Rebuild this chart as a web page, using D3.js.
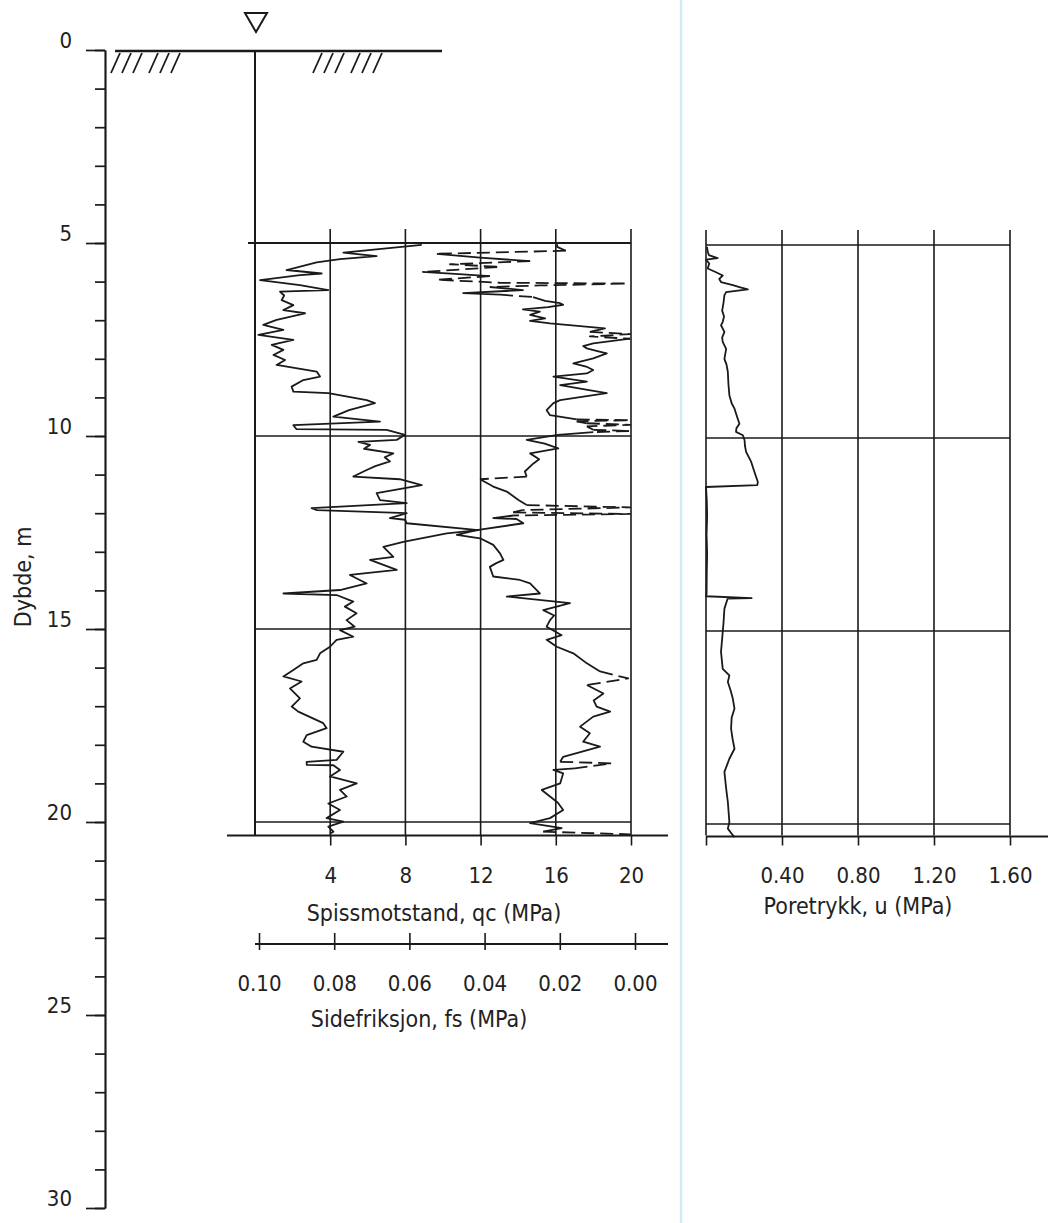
<!DOCTYPE html>
<html><head><meta charset="utf-8">
<script src="https://cdn.jsdelivr.net/npm/d3@7"></script>
<style>
html,body{margin:0;padding:0;background:#fff;}
svg text{font-family:"Liberation Sans Narrow","DejaVu Sans Condensed","Roboto Condensed",Lato,sans-serif;fill:#222;}
</style></head>
<body>
<svg id="chart" width="1048" height="1223"></svg>
<script>
// ---------- DATA ----------
const depthMajor = [0, 5, 10, 15, 20, 25, 30];
const depthMinor = d3.range(0, 31, 1);
const qcTicks = [4, 8, 12, 16, 20];
const fsTicks = [0.10, 0.08, 0.06, 0.04, 0.02, 0.00];
const uTicks = [0.40, 0.80, 1.20, 1.60];
const gridDepths = [10, 15, 20];
const cptTop = 5.0, cptBottom = 20.35;

// Spissmotstand qc (MPa) vs depth (m): [depth, qc]
const qcData = [
 [5.05,8.87],[5.25,4.70],[5.34,6.47],[5.42,4.52],[5.50,3.28],[5.70,1.68],[5.79,3.55],[5.83,2.39],[5.96,0.27],
 [6.09,2.39],[6.22,3.90],[6.26,1.33],[6.36,1.55],[6.48,1.42],[6.61,2.04],[6.74,1.51],[6.82,2.66],[6.99,1.15],[7.12,0.44],
 [7.25,1.51],[7.38,0.18],[7.51,2.04],[7.64,0.89],[7.77,1.51],[7.90,0.98],[8.03,1.60],[8.16,1.15],[8.33,3.28],
 [8.46,3.46],[8.55,2.57],[8.72,1.95],[8.85,2.04],[8.89,3.90],[9.07,5.94],[9.15,6.38],[9.33,5.00],[9.50,4.17],
 [9.63,6.65],[9.72,2.04],[9.82,2.20],[9.84,7.00],[9.97,7.98],[10.10,7.54],[10.15,5.50],[10.23,6.12],[10.33,5.80],
 [10.45,7.36],[10.55,6.90],[10.66,7.18],[10.78,6.40],[10.88,5.94],[11.05,5.23],[11.12,7.70],[11.27,8.87],[11.48,6.47],[11.66,6.65],
 [11.74,8.07],[11.87,3.01],[11.92,3.30],[12.00,8.07],[12.13,7.18],[12.17,7.98],[12.26,8.07],[12.44,11.88],
 [12.52,10.20],[12.74,7.89],[12.87,6.83],[13.13,7.36],[13.21,6.12],[13.47,7.54],[13.60,5.05],[13.82,5.94],
 [13.99,4.52],[14.08,1.51],[14.12,4.34],[14.29,5.23],[14.42,4.78],[14.59,5.40],[14.77,4.87],[14.94,5.30],
 [15.03,4.52],[15.20,5.23],[15.28,4.34],[15.46,3.99],[15.63,3.46],[15.80,3.28],[15.89,2.57],[16.06,2.04],
 [16.23,1.51],[16.36,2.48],[16.54,1.86],[16.80,2.39],[17.01,1.95],[17.14,2.30],[17.44,3.63],[17.57,3.81],
 [17.75,2.75],[17.92,2.57],[18.05,3.01],[18.18,4.70],[18.39,4.34],[18.44,2.75],[18.52,2.75],[18.53,4.17],
 [18.65,4.52],[18.82,3.99],[19.00,5.41],[19.17,4.52],[19.34,4.88],[19.52,3.90],[19.69,4.52],[19.90,3.81],
 [19.99,4.70],[20.12,3.90],[20.25,4.17],[20.30,4.00]
];

// Sidefriksjon fs (MPa) vs depth: [depth, fs, jump-to-next (1 = reading gap, drawn dashed)]
const fsData = [
 [5.03,0.0207,0],[5.10,0.0207,0],[5.20,0.0184,1],[5.28,0.0527,0],[5.38,0.0412,0],[5.47,0.0279,1],
 [5.55,0.0492,1],[5.62,0.0359,1],[5.75,0.0566,0],[5.80,0.0479,0],[5.86,0.0386,1],[5.95,0.0527,1],
 [6.03,0.0359,1],[6.05,0.0021,1],[6.10,0.0253,1],[6.14,0.0386,0],[6.22,0.0298,0],[6.30,0.0457,0],
 [6.34,0.0359,1],[6.40,0.0271,0],[6.50,0.0239,0],[6.56,0.0199,0],[6.60,0.0191,0],[6.66,0.0231,0],
 [6.72,0.0298,0],[6.78,0.0253,0],[6.86,0.0279,0],[6.95,0.0239,0],[7.02,0.0279,0],[7.08,0.0226,0],
 [7.14,0.0160,0],[7.21,0.0080,0],[7.30,0.0120,1],[7.36,0.0013,1],[7.42,0.0120,1],[7.48,0.0013,0],
 [7.60,0.0111,0],[7.67,0.0138,0],[7.73,0.0128,0],[7.80,0.0100,0],[7.86,0.0075,0],[7.99,0.0111,0],[8.12,0.0164,0],[8.20,0.0130,0],[8.29,0.0111,0],
 [8.38,0.0128,0],[8.46,0.0217,0],[8.59,0.0128,0],[8.68,0.0199,0],[8.80,0.0130,0],[8.89,0.0075,0],[9.07,0.0199,0],
 [9.15,0.0217,0],[9.33,0.0235,0],[9.46,0.0226,0],[9.57,0.0155,1],[9.59,0.0013,1],[9.62,0.0155,0],
 [9.67,0.0128,1],[9.71,0.0013,1],[9.75,0.0128,0],[9.84,0.0111,1],[9.87,0.0013,1],[9.90,0.0111,0],
 [9.97,0.0205,0],[10.10,0.0288,0],[10.20,0.0240,0],[10.32,0.0204,0],[10.45,0.0279,0],[10.60,0.0255,0],[10.71,0.0270,0],[10.92,0.0293,0],
 [11.05,0.0288,1],[11.12,0.0412,0],[11.31,0.0377,0],[11.44,0.0341,0],[11.66,0.0310,0],[11.79,0.0288,1],
 [11.85,0.0013,1],[11.92,0.0300,0],[11.98,0.0324,1],[12.02,0.0013,1],[12.06,0.0324,0],[12.13,0.0377,0],
 [12.15,0.0315,0],[12.26,0.0297,0],[12.44,0.0421,0],[12.56,0.0474,0],[12.65,0.0412,0],[12.82,0.0377,0],
 [13.04,0.0359,0],[13.21,0.0350,0],[13.30,0.0370,0],[13.39,0.0386,0],[13.64,0.0377,0],[13.73,0.0306,0],[13.82,0.0279,0],
 [14.08,0.0253,0],[14.16,0.0341,0],[14.33,0.0173,0],[14.51,0.0244,0],[14.65,0.0215,0],[14.77,0.0226,0],[14.94,0.0235,0],
 [15.16,0.0195,0],[15.28,0.0235,0],[15.46,0.0208,0],[15.63,0.0164,0],[15.89,0.0128,0],[16.10,0.0093,1],
 [16.28,0.0018,1],[16.45,0.0128,0],[16.67,0.0084,0],[16.85,0.0110,0],[17.01,0.0102,0],[17.14,0.0066,0],[17.27,0.0111,0],
 [17.53,0.0146,0],[17.70,0.0120,0],[17.92,0.0138,0],[18.05,0.0093,0],[18.31,0.0191,0],[18.44,0.0199,1],[18.48,0.0062,1],
 [18.61,0.0160,0],[18.65,0.0217,0],[18.74,0.0191,0],[19.00,0.0199,0],[19.17,0.0248,0],[19.34,0.0226,0],
 [19.50,0.0205,0],[19.69,0.0191,0],[19.90,0.0226,0],[20.03,0.0279,0],[20.16,0.0195,0],[20.25,0.0244,1],[20.32,0.0013,0]
];

// Poretrykk u (MPa) vs depth: [depth, u]
const uData = [
 [5.05,0.005],[5.11,0.007],[5.18,0.010],[5.26,0.015],[5.34,0.061],[5.38,0.000],[5.48,0.017],[5.61,0.009],
 [5.70,0.050],[5.79,0.088],[5.88,0.070],[5.96,0.079],[6.04,0.141],[6.09,0.176],[6.15,0.220],[6.22,0.106],
 [6.30,0.097],[6.50,0.092],[6.70,0.085],[6.85,0.095],[6.99,0.088],[7.08,0.079],[7.25,0.097],[7.40,0.085],
 [7.51,0.088],[7.69,0.106],[7.95,0.097],[8.10,0.108],[8.29,0.115],[8.60,0.118],[8.89,0.123],[9.10,0.135],
 [9.24,0.150],[9.50,0.167],[9.63,0.176],[9.75,0.160],[9.84,0.158],[9.93,0.194],[10.06,0.203],[10.20,0.205],
 [10.36,0.211],[10.62,0.238],[10.88,0.255],[11.14,0.273],[11.22,0.270],[11.27,0.000],[11.60,0.004],
 [12.00,0.006],[12.50,0.003],[13.00,0.006],[13.50,0.004],[14.05,0.003],[14.10,0.000],[14.15,0.240],
 [14.16,0.114],[14.42,0.097],[14.80,0.092],[15.03,0.088],[15.54,0.079],[15.98,0.088],[16.15,0.123],
 [16.32,0.115],[16.55,0.130],[16.75,0.141],[17.01,0.150],[17.25,0.135],[17.53,0.132],[17.80,0.140],
 [18.05,0.150],[18.31,0.123],[18.65,0.097],[19.08,0.106],[19.43,0.115],[19.95,0.123],[20.12,0.115],
 [20.29,0.141],[20.34,0.150]
];

// ---------- SCALES ----------
const svg = d3.select("#chart");
const y = d3.scaleLinear().domain([0, 30]).range([50, 1208]);
const xq = d3.scaleLinear().domain([0, 20]).range([255, 631]);
const xf = d3.scaleLinear().domain([0.10, 0]).range([259, 635]);
const xu = d3.scaleLinear().domain([0, 1.6]).range([706, 1010]);
const INK = "#1a1a1a";
const FS_LABEL = 22, FS_TITLE = 23;

// light blue page separator
svg.append("line").attr("x1", 681).attr("x2", 681).attr("y1", 0).attr("y2", 1223)
  .attr("stroke", "#d3e9f6").attr("stroke-width", 2.5);

// ---------- DEPTH AXIS ----------
const axX = 105;
const gMinor = svg.append("g").attr("transform", `translate(${axX},0)`)
  .call(d3.axisLeft(y).tickValues(depthMinor).tickSize(10).tickSizeOuter(0).tickFormat(""));
const gMajor = svg.append("g").attr("transform", `translate(${axX},0)`)
  .call(d3.axisLeft(y).tickValues(depthMajor).tickSize(19).tickSizeOuter(0).tickFormat(d => d));
[gMinor, gMajor].forEach(g => {
  g.selectAll("path,line").attr("stroke", INK).attr("stroke-width", 1.7);
});
gMajor.selectAll("text").attr("x", -33).attr("dy", "-0.12em").attr("font-size", FS_LABEL)
  .attr("text-anchor", "end").style("font-family", null);
svg.append("text").attr("transform", `translate(31,${y(13.65)}) rotate(-90)`)
  .attr("text-anchor", "middle").attr("font-size", FS_TITLE).text("Dybde, m");

// ---------- GROUND SURFACE ----------
svg.append("line").attr("x1", 115).attr("x2", 442).attr("y1", y(0) + 1).attr("y2", y(0) + 1)
  .attr("stroke", INK).attr("stroke-width", 2.4);
const hatchX = [111, 122, 133, 149, 160, 171, 313, 324, 335, 351, 362, 373];
svg.append("g").selectAll("line").data(hatchX).join("line")
  .attr("x1", d => d).attr("y1", y(0) + 23).attr("x2", d => d + 9).attr("y2", y(0) + 3)
  .attr("stroke", INK).attr("stroke-width", 1.8);
// groundwater level symbol
const wx = xq(0) + 1, wy = y(0);
svg.append("path").attr("d", `M${wx - 11},${wy - 37} L${wx + 11},${wy - 37} L${wx},${wy - 18} Z`)
  .attr("fill", "none").attr("stroke", INK).attr("stroke-width", 2);
// sounding rod line from surface
svg.append("line").attr("x1", xq(0)).attr("x2", xq(0)).attr("y1", y(0)).attr("y2", y(cptBottom))
  .attr("stroke", INK).attr("stroke-width", 2);

// ---------- qc / fs PANEL ----------
const gq = svg.append("g");
gq.selectAll("line.v").data(qcTicks).join("line").attr("class", "v")
  .attr("x1", d => xq(d)).attr("x2", d => xq(d)).attr("y1", y(cptTop) - 14).attr("y2", y(cptBottom))
  .attr("stroke", INK).attr("stroke-width", 1.6);
gq.append("line").attr("x1", xq(0) - 7).attr("x2", xq(20)).attr("y1", y(cptTop)).attr("y2", y(cptTop))
  .attr("stroke", INK).attr("stroke-width", 2);
gq.selectAll("line.h").data(gridDepths).join("line").attr("class", "h")
  .attr("x1", xq(0)).attr("x2", xq(20)).attr("y1", d => y(d)).attr("y2", d => y(d))
  .attr("stroke", INK).attr("stroke-width", 1.6);
gq.append("line").attr("x1", 227).attr("x2", 668).attr("y1", y(cptBottom)).attr("y2", y(cptBottom))
  .attr("stroke", INK).attr("stroke-width", 2.2);
// qc axis
const gqa = svg.append("g").attr("transform", `translate(0,${y(cptBottom)})`)
  .call(d3.axisBottom(xq).tickValues(qcTicks).tickSize(10).tickSizeOuter(0).tickFormat(d3.format("d")));
gqa.select(".domain").remove();
gqa.selectAll("line").attr("stroke", INK).attr("stroke-width", 1.6);
gqa.selectAll("text").attr("y", 47).attr("dy", 0).attr("font-size", FS_LABEL).style("font-family", null);
svg.append("text").attr("x", 434).attr("y", 921).attr("text-anchor", "middle").attr("font-size", FS_TITLE)
  .text("Spissmotstand, qc (MPa)");
// fs axis
const gfa = svg.append("g").attr("transform", "translate(0,944)")
  .call(d3.axisBottom(xf).tickValues(fsTicks).tickSize(6).tickSizeOuter(0).tickFormat(d3.format(".2f")));
gfa.select(".domain").attr("d", `M255,0H668`).attr("stroke", INK).attr("stroke-width", 1.8);
gfa.selectAll("line").attr("y1", -11).attr("stroke", INK).attr("stroke-width", 1.6);
gfa.selectAll("text").attr("y", 47).attr("dy", 0).attr("font-size", FS_LABEL).style("font-family", null);
svg.append("text").attr("x", 419).attr("y", 1027).attr("text-anchor", "middle").attr("font-size", FS_TITLE)
  .text("Sidefriksjon, fs (MPa)");

// qc curve
const lineQ = d3.line().x(d => xq(d[1])).y(d => y(d[0]));
svg.append("path").datum(qcData).attr("d", lineQ).attr("fill", "none")
  .attr("stroke", INK).attr("stroke-width", 1.8).attr("stroke-linejoin", "round");

// fs curve: solid runs and dashed jumps
const lineF = d3.line().x(d => xf(d[1])).y(d => y(d[0]));
const runs = [];
for (let i = 0; i < fsData.length - 1; i++) {
  const dashed = fsData[i][2] === 1;
  const last = runs[runs.length - 1];
  if (last && last.dashed === dashed) last.pts.push(fsData[i + 1]);
  else runs.push({ dashed, pts: [fsData[i], fsData[i + 1]] });
}
svg.append("g").selectAll("path").data(runs).join("path")
  .attr("d", r => lineF(r.pts)).attr("fill", "none").attr("stroke", INK)
  .attr("stroke-width", 1.8).attr("stroke-linejoin", "round")
  .attr("stroke-dasharray", r => r.dashed ? "13,6" : null);

// ---------- u PANEL ----------
const gu = svg.append("g");
gu.selectAll("line.v").data([0].concat(uTicks)).join("line").attr("class", "v")
  .attr("x1", d => xu(d)).attr("x2", d => xu(d)).attr("y1", y(cptTop) - 13).attr("y2", y(cptBottom))
  .attr("stroke", INK).attr("stroke-width", 1.6);
gu.selectAll("line.h").data([cptTop].concat(gridDepths)).join("line").attr("class", "h")
  .attr("x1", xu(0)).attr("x2", xu(1.6)).attr("y1", d => y(d) + 2).attr("y2", d => y(d) + 2)
  .attr("stroke", INK).attr("stroke-width", 1.6);
gu.append("line").attr("x1", xu(0)).attr("x2", 1048).attr("y1", y(cptBottom) + 1).attr("y2", y(cptBottom) + 1)
  .attr("stroke", INK).attr("stroke-width", 2);
const gua = svg.append("g").attr("transform", `translate(0,${y(cptBottom) + 1})`)
  .call(d3.axisBottom(xu).tickValues([0].concat(uTicks)).tickSize(9).tickSizeOuter(0)
    .tickFormat(d => d === 0 ? "" : d3.format(".2f")(d)));
gua.select(".domain").remove();
gua.selectAll("line").attr("stroke", INK).attr("stroke-width", 1.6);
gua.selectAll("text").attr("y", 46).attr("dy", 0).attr("font-size", FS_LABEL).style("font-family", null);
svg.append("text").attr("x", 858).attr("y", 914).attr("text-anchor", "middle").attr("font-size", FS_TITLE)
  .text("Poretrykk, u (MPa)");
const lineU = d3.line().x(d => xu(d[1])).y(d => y(d[0]) + 2);
svg.append("path").datum(uData).attr("d", lineU).attr("fill", "none")
  .attr("stroke", INK).attr("stroke-width", 1.8).attr("stroke-linejoin", "round");
</script>
</body></html>
